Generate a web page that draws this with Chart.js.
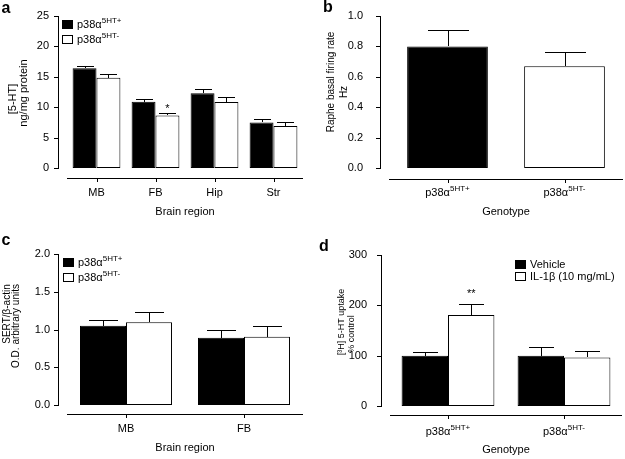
<!DOCTYPE html>
<html>
<head>
<meta charset="utf-8">
<script src="https://cdn.jsdelivr.net/npm/chart.js@4.4.0/dist/chart.umd.min.js"></script>
<style>
  body { margin: 0; background: #fff; }
  #fig { position: relative; width: 625px; height: 459px; }
  #fig canvas { position: absolute; }
</style>
</head>
<body>
<div id="fig">
  <canvas id="panel-a" width="312" height="230" style="left:0;top:0"></canvas>
  <canvas id="panel-b" width="313" height="230" style="left:312px;top:0"></canvas>
  <canvas id="panel-c" width="312" height="229" style="left:0;top:230px"></canvas>
  <canvas id="panel-d" width="313" height="229" style="left:312px;top:230px"></canvas>
</div>
<script>
const FONT = '"Liberation Sans", Arial, sans-serif';
const INK = '#000';

// a: tissue 5-HT content (ng/mg protein)
const regionsA = ['MB', 'FB', 'Hip', 'Str'];
const htPlus = [16.4, 10.9, 12.3, 7.5];
const htPlusErr = [0.45, 0.45, 0.7, 0.6];
const htMinus = [14.85, 8.65, 10.85, 6.9];
const htMinusErr = [0.6, 0.4, 0.85, 0.65];

// b: raphe basal firing rate (Hz)
const genotypes = [['p38α', '5HT+'], ['p38α', '5HT-']];
const firingRate = [0.80, 0.67];
const firingErr = [0.11, 0.095];

// c: SERT / beta-actin
const regionsC = ['MB', 'FB'];
const sertPlus = [1.05, 0.89];
const sertPlusErr = [0.08, 0.11];
const sertMinus = [1.095, 0.905];
const sertMinusErr = [0.135, 0.135];

// d: [3H] 5-HT uptake (% control)
const uptakeVehicle = [100, 100];
const uptakeVehicleErr = [7, 18];
const uptakeIL1b = [181, 96.5];
const uptakeIL1bErr = [22, 13];

const legendGenotype = [['p38α', '5HT+'], ['p38α', '5HT-']];
const legendTreatment = [['Vehicle'], ['IL-1β (10 mg/mL)']];

// text with optional superscript: [base, sup]
function drawRich(ctx, label, x, y, size, align) {
    const parts = Array.isArray(label) ? label : [label];
    const supSize = Math.round(size * 0.72);
    ctx.font = `${size}px ${FONT}`;
    const w1 = ctx.measureText(parts[0]).width;
    ctx.font = `${supSize}px ${FONT}`;
    const w2 = parts[1] ? ctx.measureText(parts[1]).width : 0;
    const x0 = align === 'center' ? x - (w1 + w2) / 2 : x;
    ctx.textAlign = 'left';
    ctx.textBaseline = 'middle';
    ctx.font = `${size}px ${FONT}`;
    ctx.fillText(parts[0], x0, y);
    if (parts[1]) {
        ctx.font = `${supSize}px ${FONT}`;
        ctx.fillText(parts[1], x0 + w1, y - size * 0.38);
    }
}

// y axis with outward ticks + detached x axis line (GraphPad style)
function drawAxes(chart, L) {
    const ctx = chart.ctx;
    const area = chart.chartArea;
    const xs = chart.scales.x, ys = chart.scales.y;
    ctx.save();
    ctx.setTransform(1, 0, 0, 1, 0, 0);
    ctx.globalAlpha = 1;
    ctx.globalCompositeOperation = 'source-over';
    ctx.fillStyle = INK;

    const ax = Math.round(area.left) - L.axisGap;
    const yTop = Math.round(ys.getPixelForValue(L.yMax));
    const yBot = Math.round(ys.getPixelForValue(0));
    ctx.fillRect(ax, yTop, 1, yBot - yTop + 1);
    ys.ticks.forEach(t => {
        ctx.fillRect(ax - 4, Math.round(ys.getPixelForValue(t.value)), 4, 1);
    });

    const ly = Math.round(area.bottom) + L.lineDrop;
    ctx.fillRect(Math.round(area.left), ly, Math.round(area.right - area.left), 1);
    L.ticks.forEach((_, i) => {
        ctx.fillRect(Math.round(xs.getPixelForValue(i)), ly, 1, 4);
    });
    ctx.restore();
}

// error bars, legend and labels
function decorPlugin(L) {
    return {
        id: 'decor',
        afterDraw(chart) {
            const ctx = chart.ctx;
            const area = chart.chartArea;
            const xs = chart.scales.x, ys = chart.scales.y;

            drawAxes(chart, L);

            ctx.save();
            ctx.fillStyle = INK;

            // error bars (upper only)
            chart.data.datasets.forEach((ds, di) => {
                chart.getDatasetMeta(di).data.forEach((bar, i) => {
                    const top = Math.round(ys.getPixelForValue(ds.data[i] + ds.errors[i]));
                    const bx = Math.round(bar.x);
                    const half = Math.round(bar.width * L.capRatio / 2);
                    ctx.fillRect(bx, top, 1, Math.round(bar.y) - top);
                    ctx.fillRect(bx - half, top, 2 * half + 1, 1);
                });
            });

            L.ticks.forEach((lab, i) => drawRich(ctx, lab, xs.getPixelForValue(i), L.xLabelY, 11, 'center'));

            ctx.font = `11px ${FONT}`;
            ctx.textAlign = 'center';
            ctx.textBaseline = 'middle';
            ctx.fillText(L.xTitle, (area.left + area.right) / 2, L.xTitleY);

            L.yTitle.forEach((line, k) => {
                ctx.save();
                ctx.translate(L.yTitleX[k], L.yTitleCy[k]);
                ctx.rotate(-Math.PI / 2);
                ctx.font = `${L.yTitleSize}px ${FONT}`;
                ctx.textAlign = 'center';
                ctx.textBaseline = 'middle';
                ctx.fillText(line, 0, 0);
                ctx.restore();
            });

            // panel letter
            ctx.font = `bold 16px ${FONT}`;
            ctx.textAlign = 'center';
            ctx.textBaseline = 'middle';
            ctx.fillText(L.letter, L.letterAt[0], L.letterAt[1]);

            // legend
            if (L.legend) {
                L.legend.forEach((lab, k) => {
                    const ds = chart.data.datasets[k];
                    const bx = L.legendAt[0], by = L.legendAt[1] + k * L.legendGap;
                    ctx.fillStyle = INK;
                    ctx.fillRect(bx, by, 11, 9);
                    ctx.fillStyle = ds.backgroundColor;
                    ctx.fillRect(bx + 1, by + 1, 9, 7);
                    ctx.fillStyle = INK;
                    drawRich(ctx, lab, bx + 15, by + 4.5, 11, 'left');
                });
            }

            // significance marks
            (L.stars || []).forEach(s => {
                const ds = chart.data.datasets[s.dataset];
                const bar = chart.getDatasetMeta(s.dataset).data[s.index];
                const top = ys.getPixelForValue(ds.data[s.index] + ds.errors[s.index]);
                ctx.font = `11px ${FONT}`;
                ctx.textAlign = 'center';
                ctx.textBaseline = 'alphabetic';
                ctx.fillText(s.text, bar.x, top - L.starLift);
            });
            ctx.restore();

            drawAxes(chart, L);
        }
    };
}

function buildPanel(canvasId, datasets, L) {
    const canvas = document.getElementById(canvasId);
    const W = canvas.width, H = canvas.height;
    const chart = new Chart(canvas, {
        type: 'bar',
        data: {
            labels: L.ticks.map(t => Array.isArray(t) ? t.join('') : t),
            datasets: datasets
        },
        options: {
            responsive: false,
            animation: false,
            devicePixelRatio: 1,
            layout: { padding: { left: 0, top: L.area.t, right: W - L.area.r, bottom: 0 } },
            plugins: { legend: { display: false }, tooltip: { enabled: false } },
            scales: {
                x: {
                    grid: { display: false, drawTicks: false },
                    border: { display: false },
                    ticks: { display: false },
                    afterFit: s => { s.height = H - L.area.b; s.paddingLeft = 0; s.paddingRight = 0; }
                },
                y: {
                    min: 0,
                    max: L.yMax,
                    grid: { display: false, drawTicks: false },
                    border: { display: false },
                    ticks: {
                        stepSize: L.yStep,
                        padding: L.tickPad,
                        color: INK,
                        font: { family: FONT, size: 11 },
                        callback: v => v.toFixed(L.decimals)
                    },
                    // fixed gutter, no label overflow added on top
                    afterFit: s => { s.width = L.area.l; s.paddingTop = 0; s.paddingBottom = 0; }
                }
            }
        },
        plugins: [decorPlugin(L)]
    });
    // repaint axes once the page has settled
    [0, 50, 200, 600].forEach(ms => setTimeout(() => drawAxes(chart, L), ms));
    return chart;
}

function pairSets(a, aErr, b, bErr, catPct) {
    const common = { borderColor: '#000', borderWidth: 1, borderSkipped: false, barPercentage: 1, categoryPercentage: catPct };
    return [
        Object.assign({ data: a, errors: aErr, backgroundColor: '#000' }, common),
        Object.assign({ data: b, errors: bErr, backgroundColor: '#fff' }, common)
    ];
}

buildPanel('panel-a', pairSets(htPlus, htPlusErr, htMinus, htMinusErr, 0.81), {
    area: { l: 67, r: 303, t: 16, b: 168 },
    yMax: 25, yStep: 5, decimals: 0, tickPad: 18, axisGap: 9, lineDrop: 10,
    ticks: regionsA, xLabelY: 193, xTitle: 'Brain region', xTitleY: 212,
    yTitle: ['[5-HT]', 'ng/mg protein'], yTitleX: [13, 24], yTitleCy: [99, 93], yTitleSize: 11,
    letter: 'a', letterAt: [6, 9],
    legend: legendGenotype, legendAt: [62, 20], legendGap: 15,
    capRatio: 0.65,
    stars: [{ dataset: 1, index: 1, text: '*' }], starLift: 1
});

buildPanel('panel-b', [{
    data: firingRate, errors: firingErr,
    backgroundColor: ['#000', '#fff'], borderColor: '#000', borderWidth: 1, borderSkipped: false,
    barPercentage: 0.69, categoryPercentage: 1
}], {
    area: { l: 77, r: 311, t: 16, b: 168 },
    yMax: 1.0, yStep: 0.2, decimals: 1, tickPad: 26, axisGap: 9, lineDrop: 11,
    ticks: genotypes, xLabelY: 193, xTitle: 'Genotype', xTitleY: 212,
    yTitle: ['Raphe basal firing rate', 'Hz'], yTitleX: [19, 32], yTitleCy: [82, 92], yTitleSize: 10,
    letter: 'b', letterAt: [16, 8],
    capRatio: 0.5
});

buildPanel('panel-c', pairSets(sertPlus, sertPlusErr, sertMinus, sertMinusErr, 0.78), {
    area: { l: 67, r: 303, t: 24, b: 175 },
    yMax: 2.0, yStep: 0.5, decimals: 1, tickPad: 17, axisGap: 9, lineDrop: 9,
    ticks: regionsC, xLabelY: 199, xTitle: 'Brain region', xTitleY: 218,
    yTitle: ['SERT/β-actin', 'O.D. arbitrary units'], yTitleX: [7, 16], yTitleCy: [84, 96], yTitleSize: 10,
    letter: 'c', letterAt: [6, 11],
    legend: legendGenotype, legendAt: [63, 28], legendGap: 15,
    capRatio: 0.62
});

buildPanel('panel-d', pairSets(uptakeVehicle, uptakeVehicleErr, uptakeIL1b, uptakeIL1bErr, 0.8), {
    area: { l: 78, r: 310, t: 25, b: 176 },
    yMax: 300, yStep: 100, decimals: 0, tickPad: 23, axisGap: 9, lineDrop: 9,
    ticks: genotypes, xLabelY: 202, xTitle: 'Genotype', xTitleY: 220,
    yTitle: ['[³H] 5-HT uptake', '% control'], yTitleX: [30, 40], yTitleCy: [92, 104], yTitleSize: 9,
    letter: 'd', letterAt: [12, 17],
    legend: legendTreatment, legendAt: [203, 30], legendGap: 12,
    capRatio: 0.5,
    stars: [{ dataset: 1, index: 0, text: '**' }], starLift: 7
});
</script>
</body>
</html>
